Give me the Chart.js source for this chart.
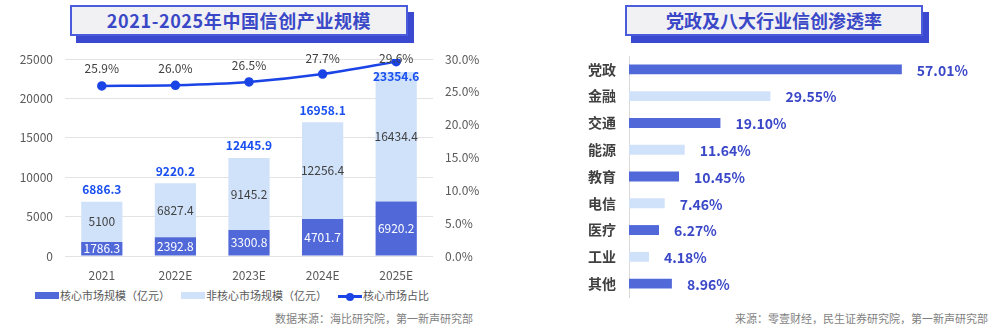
<!DOCTYPE html>
<html>
<head>
<meta charset="utf-8">
<script src="https://cdn.jsdelivr.net/npm/chart.js@4"></script>
<style>
  body { margin: 0; width: 1000px; height: 330px; background: #fff; position: relative; overflow: hidden;
         font-family: 'Noto Sans CJK SC', 'Noto Sans', sans-serif; }
  .title { position: absolute; top: 5px; height: 27px; background: #f1f1f3; border: 2px solid #4a5bdc;
           box-shadow: 6px 7px 0 #3a49cf; color: #3a48c8; font-weight: bold; font-size: 18px;
           line-height: 27px; text-align: center; }
  canvas { position: absolute; display: block; }
  .legend { position: absolute; top: 287px; font-size: 11px; color: #595959; line-height: 16px; white-space: nowrap; }
  .sw { position: absolute; top: 5px; width: 24px; height: 7px; }
  .src { position: absolute; top: 310px; font-size: 11px; color: #7f7f7f; white-space: nowrap; }
</style>
</head>
<body>
<div class="title" style="left:70px;width:334px;letter-spacing:0.6px;">2021-2025年中国信创产业规模</div>
<div class="title" style="left:625px;width:294px;">党政及八大行业信创渗透率</div>

<canvas id="scaleChart" width="500" height="235" style="left:0;top:45px;width:500px;height:235px;"></canvas>
<canvas id="rateChart" width="500" height="255" style="left:500px;top:45px;width:500px;height:255px;"></canvas>

<div class="legend" style="left:35px;"><span class="sw" style="left:0;background:#5068d8;"></span><span style="margin-left:25px;">核心市场规模（亿元）</span></div>
<div class="legend" style="left:181px;"><span class="sw" style="left:0;background:#d0e2fa;"></span><span style="margin-left:25px;">非核心市场规模（亿元）</span></div>
<div class="legend" style="left:338px;">
  <span style="position:absolute;left:0;top:8px;width:24px;height:2.5px;background:#1b44e6;"></span>
  <span style="position:absolute;left:8px;top:5.5px;width:8px;height:8px;border-radius:50%;background:#1b44e6;"></span>
  <span style="margin-left:25px;">核心市场占比</span></div>

<div class="src" style="left:275px;">数据来源：海比研究院，第一新声研究部</div>
<div class="src" style="left:735px;">来源：零壹财经，民生证券研究院，第一新声研究部</div>

<script>
const years = ['2021', '2022E', '2023E', '2024E', '2025E'];
const coreSize = [1786.3, 2392.8, 3300.8, 4701.7, 6920.2];
const nonCoreSize = [5100, 6827.4, 9145.2, 12256.4, 16434.4];
const totalSize = [6886.3, 9220.2, 12445.9, 16958.1, 23354.6];
const coreShare = [25.9, 26.0, 26.5, 27.7, 29.6];

const sectors = ['党政', '金融', '交通', '能源', '教育', '电信', '医疗', '工业', '其他'];
const penetration = [57.01, 29.55, 19.10, 11.64, 10.45, 7.46, 6.27, 4.18, 8.96];

const colors = {
  core: '#5068d8',
  nonCore: '#d0e2fa',
  line: '#1b44e6',
  total: '#1a4ff0',
  label: '#3a48c8',
  text: '#404040',
  tick: '#595959',
  grid: '#e3e3e3',
};

const FONT = "'Noto Sans CJK SC', 'Noto Sans', sans-serif";
Chart.defaults.font.family = FONT;
Chart.defaults.color = colors.tick;

// vertical scales add tick padding above/below the plot; drop it so the layout padding rules
function noVerticalPadding(s) {
  s.paddingTop = 0;
  s.paddingBottom = 0;
}

const scaleLabels = {
  id: 'scaleLabels',
  afterDatasetsDraw(chart) {
    const ctx = chart.ctx;
    const top = chart.chartArea.top;
    const coreMeta = chart.getDatasetMeta(0);
    const nonMeta = chart.getDatasetMeta(1);
    const lineMeta = chart.getDatasetMeta(2);
    ctx.save();
    ctx.textAlign = 'center';
    ctx.textBaseline = 'middle';
    coreMeta.data.forEach((bar, i) => {
      ctx.font = '12px ' + FONT;
      ctx.fillStyle = '#ffffff';
      ctx.fillText(String(coreSize[i]), bar.x, (bar.y + bar.base) / 2);
      const nb = nonMeta.data[i];
      ctx.fillStyle = colors.text;
      ctx.fillText(String(nonCoreSize[i]), nb.x, (nb.y + nb.base) / 2);
      ctx.font = 'bold 12px ' + FONT;
      ctx.fillStyle = colors.total;
      ctx.fillText(totalSize[i].toFixed(1), nb.x, Math.max(nb.y - 12, top + 17));
      const p = lineMeta.data[i];
      ctx.font = '12px ' + FONT;
      ctx.fillStyle = colors.text;
      ctx.fillText(coreShare[i].toFixed(1) + '%', p.x, Math.max(p.y - 17, top - 1));
    });
    ctx.restore();
  }
};

new Chart(document.getElementById('scaleChart'), {
  type: 'bar',
  data: {
    labels: years,
    datasets: [
      { label: '核心市场规模（亿元）', data: coreSize, backgroundColor: colors.core, stack: 's', yAxisID: 'y', order: 2,
        barPercentage: 0.56, categoryPercentage: 1 },
      { label: '非核心市场规模（亿元）', data: nonCoreSize, backgroundColor: colors.nonCore, stack: 's', yAxisID: 'y', order: 2,
        barPercentage: 0.56, categoryPercentage: 1 },
      { type: 'line', label: '核心市场占比', data: coreShare, yAxisID: 'y1', order: 0,
        borderColor: colors.line, backgroundColor: colors.line, borderWidth: 2.5,
        pointRadius: 3.5, pointHoverRadius: 3.5, tension: 0.25 }
    ]
  },
  options: {
    responsive: false,
    animation: false,
    layout: { padding: { top: 14, left: 0, right: 0, bottom: 0 } },
    plugins: { legend: { display: false }, tooltip: { enabled: false } },
    scales: {
      x: {
        stacked: true,
        grid: { display: false },
        border: { display: false },
        ticks: { font: { size: 12 }, color: colors.tick, padding: 4 },
        afterFit(s) { s.height = 24; }
      },
      y: {
        stacked: true, min: 0, max: 25000,
        ticks: { stepSize: 5000, font: { size: 12 }, color: colors.tick, padding: 12,
                 callback: v => String(v) },
        grid: { color: colors.grid, drawTicks: false },
        border: { display: false },
        afterFit(s) { s.width = 65; noVerticalPadding(s); }
      },
      y1: {
        position: 'right', min: 0, max: 30,
        ticks: { stepSize: 5, font: { size: 12 }, color: colors.tick, padding: 12,
                 callback: v => v.toFixed(1) + '%' },
        grid: { display: false, drawTicks: false },
        border: { display: false },
        afterFit(s) { s.width = 67; noVerticalPadding(s); }
      }
    }
  },
  plugins: [scaleLabels]
});

const rateLabels = {
  id: 'rateLabels',
  afterDatasetsDraw(chart) {
    const ctx = chart.ctx;
    ctx.save();
    ctx.font = 'bold 14px ' + FONT;
    ctx.fillStyle = colors.label;
    ctx.textAlign = 'left';
    ctx.textBaseline = 'middle';
    chart.getDatasetMeta(0).data.forEach((bar, i) => {
      ctx.fillText(penetration[i].toFixed(2) + '%', bar.x + 15, bar.y + 1);
    });
    ctx.restore();
  }
};

new Chart(document.getElementById('rateChart'), {
  type: 'bar',
  data: {
    labels: sectors,
    datasets: [{
      label: '渗透率',
      data: penetration,
      backgroundColor: c => (c.dataIndex % 2 ? colors.nonCore : colors.core),
      barPercentage: 0.37,
      categoryPercentage: 1
    }]
  },
  options: {
    indexAxis: 'y',
    responsive: false,
    animation: false,
    layout: { padding: { top: 11, bottom: 3, left: 0, right: 36 } },
    plugins: { legend: { display: false }, tooltip: { enabled: false } },
    scales: {
      x: { display: false, min: 0, max: 70 },
      y: {
        grid: { display: false, drawTicks: false },
        border: { display: true, color: '#d9d9d9', width: 1 },
        ticks: { font: { size: 14, weight: 'bold' }, color: colors.text, padding: 13 },
        afterFit(s) { s.width = 129; noVerticalPadding(s); }
      }
    }
  },
  plugins: [rateLabels]
});
</script>
</body>
</html>
